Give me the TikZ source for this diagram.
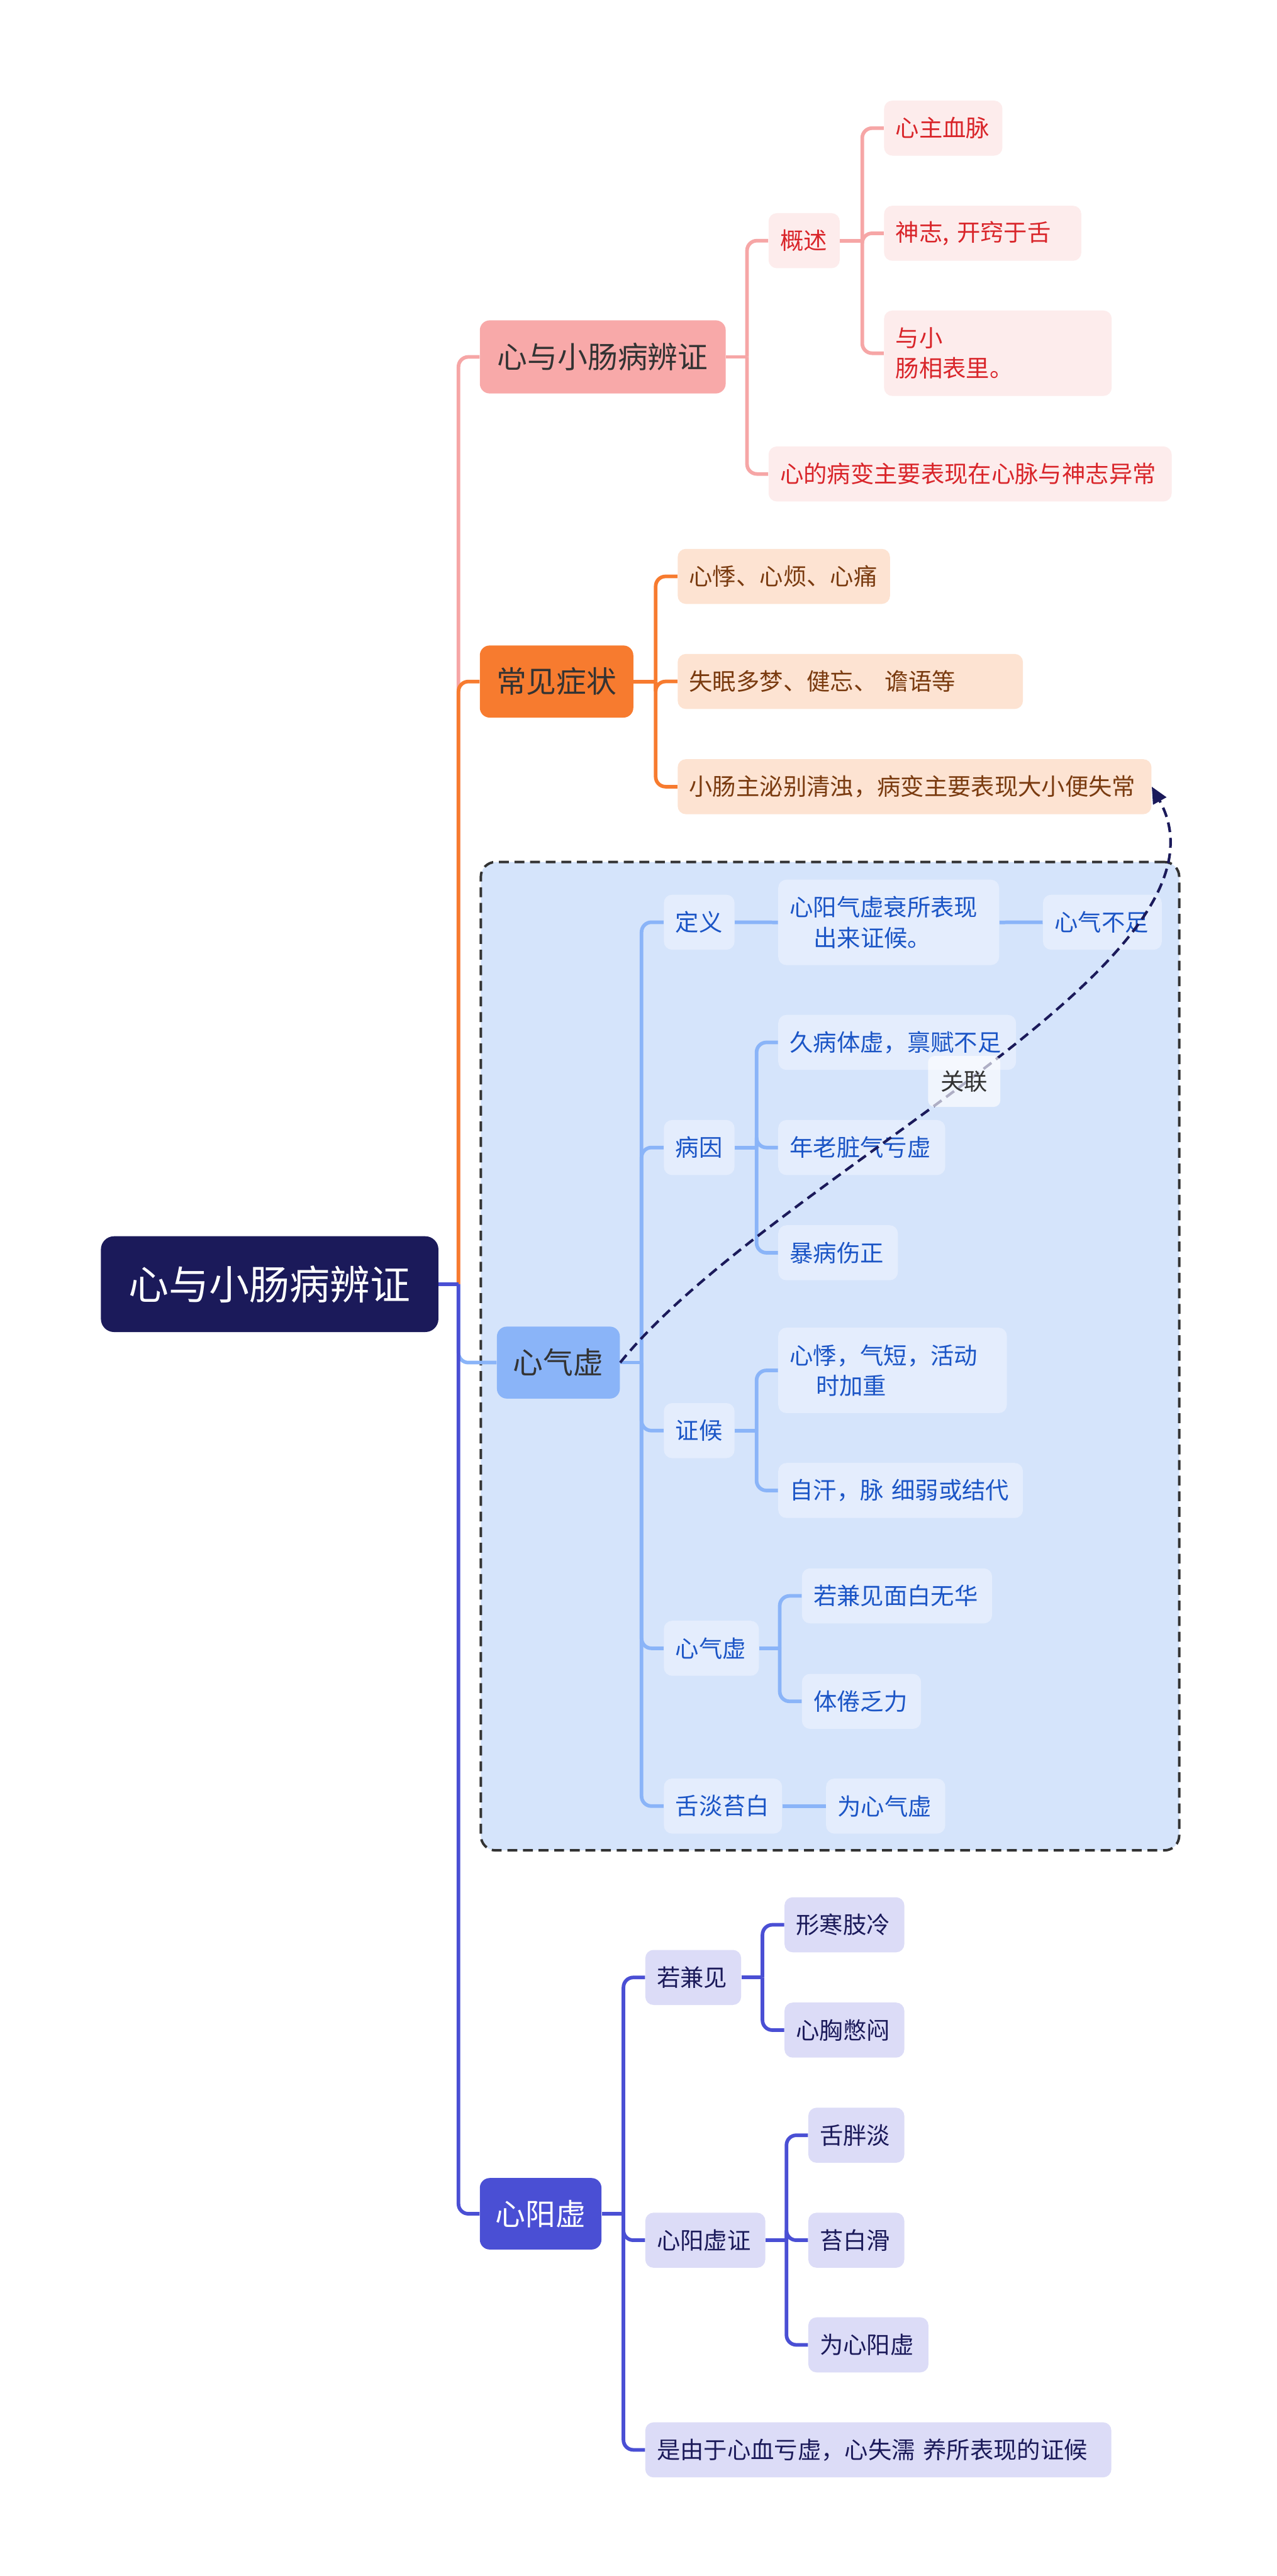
\documentclass[tikz,border=0pt]{standalone}
\usepackage{fontspec}
\setmainfont{Noto Sans CJK SC}
\usetikzlibrary{arrows.meta}
\definecolor{rootc}{HTML}{1B1A5A}
\definecolor{pinkB}{HTML}{F8A9A9}
\definecolor{pinkLn}{HTML}{F6A6A6}
\definecolor{pinkL}{HTML}{FDECEC}
\definecolor{redT}{HTML}{D9252A}
\definecolor{orangeB}{HTML}{F77B2F}
\definecolor{orangeL}{HTML}{FDE3D2}
\definecolor{brownT}{HTML}{7A3B10}
\definecolor{blueB}{HTML}{8AB4F8}
\definecolor{blueL}{HTML}{E4EDFD}
\definecolor{blueT}{HTML}{1B55C6}
\definecolor{frameF}{HTML}{D5E4FB}
\definecolor{violetB}{HTML}{4A4FD4}
\definecolor{violetL}{HTML}{DCDCF7}
\definecolor{navyT}{HTML}{1B1A5A}
\definecolor{darkT}{HTML}{333333}
\tikzset{
  rootbox/.style={fill=rootc, text=white, rounded corners=8pt, inner sep=0pt, align=center,
    font=\fontsize{24.5}{28}\selectfont},
  brbox/.style={rounded corners=6pt, inner sep=0pt, align=center, font=\fontsize{18.3}{22}\selectfont},
  lf/.style={rounded corners=5pt, inner xsep=7pt, inner ysep=0pt, align=left,
    font=\fontsize{14.3}{18.5}\selectfont},
  lfA/.style={lf, fill=pinkL, text=redT},
  lfB/.style={lf, fill=orangeL, text=brownT},
  lfC/.style={lf, fill=blueL, text=blueT},
  lfD/.style={lf, fill=violetL, text=navyT},
  one/.style={minimum height=33.5pt},
  two/.style={minimum height=52pt},
  conA/.style={draw=pinkLn, line width=2.2pt, rounded corners=6pt},
  conB/.style={draw=orangeB, line width=2.2pt, rounded corners=6pt},
  conC/.style={draw=blueB, line width=2.2pt, rounded corners=6pt},
  conD/.style={draw=violetB, line width=2.2pt, rounded corners=6pt},
  framebox/.style={draw=darkT, fill=frameF, line width=1.5pt, dash pattern=on 6pt off 3.5pt, rounded corners=9pt},
  relline/.style={draw=navyT, line width=1.6pt, dash pattern=on 6pt off 3.5pt, -{Triangle[length=10pt,width=9pt]}},
  lbl/.style={fill=white, fill opacity=0.65, text opacity=1, text=darkT, rounded corners=4pt,
    minimum width=44pt, minimum height=31pt, inner sep=0pt, font=\fontsize{14.3}{17}\selectfont}
}
\begin{document}
\begin{tikzpicture}[x=1pt,y=-1pt]
\useasboundingbox (0,0) rectangle (777,1568);
\fill[white] (0,0) rectangle (777,1568);

% frame of the 心气虚 group
\node[framebox, minimum width=425pt, minimum height=601.6pt] (frame) at (505.1,825.5) {};

% root and branches
\node[rootbox, minimum width=205.4pt, minimum height=58.3pt] (root) at (164.1,781.65) {心与小肠病辨证};
\node[brbox, fill=pinkB, text=darkT, minimum width=149.6pt, minimum height=44.5pt] (b1) at (366.8,217.25) {心与小肠病辨证};
\node[brbox, fill=orangeB, text=darkT, minimum width=93.4pt, minimum height=43.9pt] (b2) at (338.7,414.85) {常见症状};
\node[brbox, fill=blueB, text=darkT, minimum width=74.8pt, minimum height=43.8pt] (b3) at (339.8,829.4) {心气虚};
\node[brbox, fill=violetB, text=white, minimum width=74pt, minimum height=43.5pt] (b4) at (329,1347.5) {心阳虚};

% branch 1
\node[lfA, one, text width=29.3pt] (gs) at (489.35,146.5) {概述};
\node[lfA, one, text width=58pt] (zx) at (574,78) {心主血脉};
\node[lfA, one, text width=106pt] (sz) at (598,142) {神志, 开窍于舌};
\node[lfA, two, text width=124.5pt] (yx) at (607.25,215) {与小\\肠相表里。};
\node[lfA, one, text width=231.3pt] (bl) at (590.35,288.5) {心的病变主要表现在心脉与神志异常};

% branch 2
\node[lfB, one, text width=115.2pt] (x1) at (477,350.85) {心悸、心烦、心痛};
\node[lfB, one, text width=196.1pt] (x2) at (517.45,414.8) {失眠多梦、健忘、 谵语等};
\node[lfB, one, text width=274.3pt] (x3) at (556.55,478.85) {小肠主泌别清浊，病变主要表现大小便失常};

% branch 3
\node[lfC, one, text width=29pt] (dy) at (425.5,561.35) {定义};
\node[lfC, two, text width=120.4pt] (yq) at (540.8,561.45) {心阳气虚衰所表现\\\hspace*{14.5pt}出来证候。};
\node[lfC, one, text width=58.3pt] (bz) at (670.85,561.35) {心气不足};
\node[lfC, one, text width=29pt] (by) at (425.5,698.5) {病因};
\node[lfC, one, text width=130.7pt] (jb) at (545.95,634.5) {久病体虚，禀赋不足};
\node[lfC, one, text width=87.6pt] (nl) at (524.4,698.5) {年老脏气亏虚};
\node[lfC, one, text width=58.8pt] (bb) at (510,762.55) {暴病伤正};
\node[lfC, one, text width=29pt] (zh) at (425.5,870.8) {证候};
\node[lfC, two, text width=125.1pt] (xj) at (543.15,834.15) {心悸，气短，活动\\\hspace*{16pt}时加重};
\node[lfC, one, text width=134.9pt] (zh2) at (548.05,907.25) {自汗，脉 细弱或结代};
\node[lfC, one, text width=43.8pt] (qx2) at (432.9,1003.3) {心气虚};
\node[lfC, one, text width=101.7pt] (rj) at (545.85,971.4) {若兼见面白无华};
\node[lfC, one, text width=58.5pt] (tj) at (524.25,1035.6) {体倦乏力};
\node[lfC, one, text width=57.9pt] (sd) at (439.95,1099.35) {舌淡苔白};
\node[lfC, one, text width=58.5pt] (wq) at (538.95,1099.35) {为心气虚};

% branch 4
\node[lfD, one, text width=44.3pt] (rj2) at (421.85,1203.65) {若兼见};
\node[lfD, one, text width=58.9pt] (xh) at (513.85,1171.6) {形寒肢冷};
\node[lfD, one, text width=58.9pt] (xx) at (513.85,1235.7) {心胸憋闷};
\node[lfD, one, text width=59pt] (yz) at (429.2,1363.6) {心阳虚证};
\node[lfD, one, text width=44.4pt] (sp2) at (521.1,1299.7) {舌胖淡};
\node[lfD, one, text width=44.4pt] (tb) at (521.1,1363.6) {苔白滑};
\node[lfD, one, text width=59.1pt] (wy) at (528.45,1427.3) {为心阳虚};
\node[lfD, one, text width=269.6pt] (sy) at (534.5,1491.2) {是由于心血亏虚，心失濡 养所表现的证候};

% junction points
\coordinate (sp) at (279,781.65);
\coordinate (j1) at (454.6,217.25);
\coordinate (j2) at (524.7,146.5);
\coordinate (j3) at (399,414.85);
\coordinate (j4) at (390.4,829.4);
\coordinate (j5) at (460.4,698.5);
\coordinate (j6) at (460.4,870.8);
\coordinate (j7) at (474.5,1003.3);
\coordinate (j8) at (379.4,1347.5);
\coordinate (j9) at (464,1203.65);
\coordinate (j10) at (478.6,1363.6);

% main spine
\draw[conA] (sp) |- (b1.west);
\draw[conB] (sp) |- (b2.west);
\draw[conC] (sp) |- (b3.west);
\draw[conD] (sp) |- (b4.west);
\draw[conD] (root.east) -- (sp);

% branch 1 connectors
\draw[conA] (b1.east) -- (j1);
\draw[conA] (j1) |- (gs.west);
\draw[conA] (j1) |- (bl.west);
\draw[conA] (gs.east) -- (j2);
\draw[conA] (j2) |- (zx.west);
\draw[conA] (j2) |- (sz.west);
\draw[conA] (j2) |- (yx.west);

% branch 2 connectors
\draw[conB] (b2.east) -- (j3);
\draw[conB] (j3) |- (x1.west);
\draw[conB] (j3) |- (x2.west);
\draw[conB] (j3) |- (x3.west);

% branch 3 connectors
\draw[conC] (b3.east) -- (j4);
\draw[conC] (j4) |- (dy.west);
\draw[conC] (j4) |- (by.west);
\draw[conC] (j4) |- (zh.west);
\draw[conC] (j4) |- (qx2.west);
\draw[conC] (j4) |- (sd.west);
\draw[conC] (dy.east) -- (yq.west);
\draw[conC] (yq.east) -- (bz.west);
\draw[conC] (by.east) -- (j5);
\draw[conC] (j5) |- (jb.west);
\draw[conC] (j5) |- (nl.west);
\draw[conC] (j5) |- (bb.west);
\draw[conC] (zh.east) -- (j6);
\draw[conC] (j6) |- (xj.west);
\draw[conC] (j6) |- (zh2.west);
\draw[conC] (qx2.east) -- (j7);
\draw[conC] (j7) |- (rj.west);
\draw[conC] (j7) |- (tj.west);
\draw[conC] (sd.east) -- (wq.west);

% branch 4 connectors
\draw[conD] (b4.east) -- (j8);
\draw[conD] (j8) |- (rj2.west);
\draw[conD] (j8) |- (yz.west);
\draw[conD] (j8) |- (sy.west);
\draw[conD] (rj2.east) -- (j9);
\draw[conD] (j9) |- (xh.west);
\draw[conD] (j9) |- (xx.west);
\draw[conD] (yz.east) -- (j10);
\draw[conD] (j10) |- (sp2.west);
\draw[conD] (j10) |- (tb.west);
\draw[conD] (j10) |- (wy.west);

% relation
\draw[relline] (b3.east) .. controls (470,715) and (760,585) .. (x3.east)
  node[pos=0.48, lbl] (rel) {关联};
\end{tikzpicture}
\end{document}
